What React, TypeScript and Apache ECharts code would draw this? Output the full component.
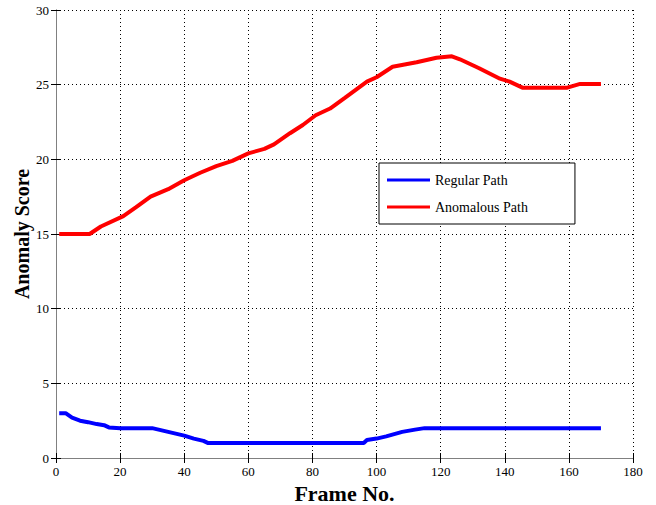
import React, { useEffect, useRef } from "react";
import * as echarts from "echarts";

const regularX = [1, 3, 5, 7.5, 10, 12.7, 15, 16.5, 20, 28, 30, 33, 36, 40, 43, 46, 47.5, 60, 80, 96, 97, 100, 103, 108, 112, 115, 130, 150, 170];
const regularY = [3, 3, 2.7, 2.5, 2.4, 2.27, 2.2, 2.05, 2, 2, 2, 1.85, 1.7, 1.5, 1.3, 1.15, 1, 1, 1, 1, 1.2, 1.3, 1.45, 1.75, 1.9, 2, 2, 2, 2];

const anomX = [1, 10.5, 14, 21, 25, 29.5, 35, 40, 45, 50, 55, 60, 65, 68, 73, 77, 81, 85.5, 90, 97, 100, 105, 112.5, 118.7, 123.5, 126, 132, 138.5, 141.5, 145.5, 159.5, 163.5, 170];
const anomY = [15, 15, 15.5, 16.2, 16.8, 17.5, 18, 18.6, 19.1, 19.55, 19.9, 20.4, 20.7, 21, 21.75, 22.3, 22.95, 23.4, 24.1, 25.2, 25.5, 26.2, 26.5, 26.8, 26.9, 26.7, 26.1, 25.4, 25.2, 24.8, 24.8, 25.05, 25.05];

const seriesNames = ["Regular Path", "Anomalous Path"];
const xName = "Frame No.";
const yName = "Anomaly Score";

const FONT = "'Liberation Serif', 'Times New Roman', serif";

export default function App() {
  const ref = useRef<HTMLDivElement>(null);
  useEffect(() => {
    if (!ref.current) return;
    const chart = echarts.init(ref.current, null, { renderer: "svg" });
    const axisLine = { show: true, lineStyle: { color: "#808080", width: 1 } };
    const splitLine = { show: true, lineStyle: { color: "#000", type: [1, 3] as any, width: 1 } };
    const tick = { show: true, inside: true, length: 5, lineStyle: { color: "#000" } };
    const labelStyle = { fontFamily: FONT, fontSize: 13, color: "#000", margin: 7 };
    chart.setOption({
      animation: false,
      backgroundColor: "#fff",
      textStyle: { fontFamily: FONT },
      grid: { left: 56, right: 23, top: 10, bottom: 47, containLabel: false, outerBoundsMode: "none" },
      legend: {
        orient: "vertical",
        left: 379,
        top: 163,
        data: seriesNames,
        icon: "rect",
        itemWidth: 43,
        itemHeight: 3,
        itemGap: 13,
        padding: [10, 47, 10, 8],
        backgroundColor: "#fff",
        borderColor: "#000",
        borderWidth: 1,
        borderRadius: 0,
        textStyle: { fontFamily: FONT, fontSize: 14, color: "#000" },
      },
      xAxis: [
        {
          type: "value",
          min: 0,
          max: 180,
          interval: 20,
          name: xName,
          nameLocation: "middle",
          nameGap: 24,
          nameMoveOverlap: false,
          nameTextStyle: { fontFamily: FONT, fontSize: 22, fontWeight: "bold", color: "#000" },
          axisLine,
          axisTick: tick,
          axisLabel: labelStyle,
          splitLine,
        },
        {
          type: "value",
          position: "top",
          min: 0,
          max: 180,
          interval: 20,
          axisLine,
          axisTick: tick,
          axisLabel: { show: false },
          splitLine: { show: false },
        },
      ],
      yAxis: [
        {
          type: "value",
          min: 0,
          max: 30,
          interval: 5,
          name: yName,
          nameLocation: "middle",
          nameGap: 24,
          nameMoveOverlap: false,
          nameTextStyle: { fontFamily: FONT, fontSize: 20, fontWeight: "bold", color: "#000" },
          axisLine,
          axisTick: tick,
          axisLabel: labelStyle,
          splitLine,
        },
        {
          type: "value",
          position: "right",
          min: 0,
          max: 30,
          interval: 5,
          axisLine,
          axisTick: tick,
          axisLabel: { show: false },
          splitLine: { show: false },
        },
      ],
      series: [
        {
          name: seriesNames[0],
          type: "line",
          symbol: "none",
          data: regularX.map((x, i) => [x, regularY[i]]),
          lineStyle: { color: "#0000ff", width: 4 },
          itemStyle: { color: "#0000ff" },
        },
        {
          name: seriesNames[1],
          type: "line",
          symbol: "none",
          data: anomX.map((x, i) => [x, anomY[i]]),
          lineStyle: { color: "#ff0000", width: 4 },
          itemStyle: { color: "#ff0000" },
        },
      ],
    });
    return () => chart.dispose();
  }, []);
  return <div ref={ref} style={{ width: 656, height: 505, position: "absolute", left: 0, top: 0 }} />;
}
